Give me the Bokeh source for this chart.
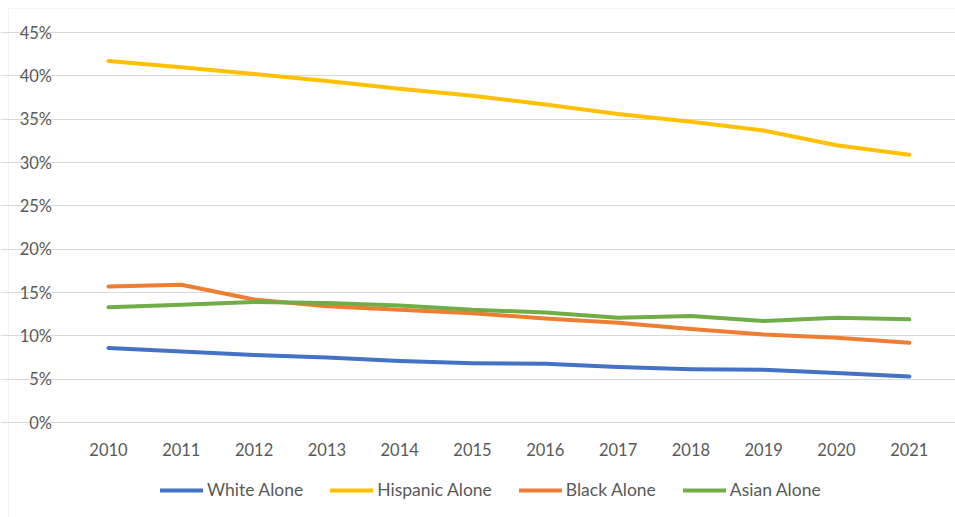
from bokeh.plotting import figure
from bokeh.models import (Legend, LegendItem, NumeralTickFormatter, FixedTicker,
                          Range1d, BoxAnnotation)
from bokeh.embed import file_html
from bokeh.resources import INLINE

# Share of population in each group, by year
years = [2010, 2011, 2012, 2013, 2014, 2015,
         2016, 2017, 2018, 2019, 2020, 2021]
white_alone = [0.086, 0.082, 0.078, 0.075, 0.071, 0.0685,
               0.0677, 0.064, 0.0615, 0.0608, 0.057, 0.053]
hispanic_alone = [0.417, 0.410, 0.402, 0.394, 0.385, 0.377,
                  0.367, 0.356, 0.347, 0.337, 0.320, 0.309]
black_alone = [0.157, 0.159, 0.142, 0.134, 0.130, 0.126,
               0.120, 0.115, 0.108, 0.1015, 0.0977, 0.092]
asian_alone = [0.133, 0.136, 0.139, 0.138, 0.135, 0.130,
               0.127, 0.121, 0.123, 0.117, 0.121, 0.119]
y_ticks = [0, 0.05, 0.10, 0.15, 0.20, 0.25, 0.30, 0.35, 0.40, 0.45]

series = [
    ("White Alone", white_alone, "#4472C4"),
    ("Hispanic Alone", hispanic_alone, "#FFC000"),
    ("Black Alone", black_alone, "#ED7D31"),
    ("Asian Alone", asian_alone, "#70AD47"),
]

FONT = "Lato"
TEXT = "#595959"
GRID = "#d9d9d9"

W, H = 955, 517
# plot-area geometry in pixels: first/last year centres, top/bottom gridlines
X_FIRST, STEP = 108.0, 72.8
Y_TOP, Y_ZERO = 32.0, 422.0
px_per_unit = (Y_ZERO - Y_TOP) / y_ticks[-1]

x_start = years[0] - X_FIRST / STEP
x_end = years[0] + (W - X_FIRST) / STEP
y_end = y_ticks[-1] + Y_TOP / px_per_unit
y_start = -(H - Y_ZERO) / px_per_unit

# the frame fills the whole canvas; axes are pinned inside it
p = figure(
    width=W, height=H,
    x_range=Range1d(x_start, x_end),
    y_range=Range1d(y_start, y_end),
    output_backend="svg",
    toolbar_location=None,
    min_border=0,
)
p.outline_line_color = None
p.background_fill_color = "white"
p.border_fill_color = "white"

# chart area border (its right and bottom edges lie past the page)
p.add_layout(BoxAnnotation(left=8, right=W + 10, top=8, bottom=H + 10,
                           left_units="canvas", right_units="canvas",
                           top_units="canvas", bottom_units="canvas",
                           fill_color=None, fill_alpha=0,
                           line_color=GRID, line_width=1))

items = []
for name, vals, color in series:
    r = p.line(years, vals, line_color=color, line_width=4,
               line_cap="round", line_join="round")
    items.append(LegendItem(label=name, renderers=[r]))

# axes
half = 0.5
p.yaxis.ticker = FixedTicker(ticks=y_ticks)
p.yaxis.formatter = NumeralTickFormatter(format="0%")
p.yaxis.fixed_location = years[0] - half
p.xaxis.ticker = FixedTicker(ticks=years)
p.xaxis.formatter = NumeralTickFormatter(format="0")
p.xaxis.fixed_location = 0
for ax in (p.xaxis[0], p.yaxis[0]):
    ax.axis_line_color = None
    ax.major_tick_line_color = None
    ax.minor_tick_line_color = None
    ax.major_label_text_font = FONT
    ax.major_label_text_font_size = "16.5px"
    ax.major_label_text_color = TEXT
p.yaxis.major_label_standoff = 14
p.xaxis.major_label_standoff = 14

p.xgrid.grid_line_color = None
p.ygrid.grid_line_color = GRID
p.ygrid.grid_line_width = 1
p.ygrid.ticker = FixedTicker(ticks=y_ticks)
p.ygrid.bounds = (years[0] - half, years[-1] + half)

# horizontal legend under the year labels
legend = Legend(items=items, orientation="horizontal", location=(160, 17),
                glyph_width=43, glyph_height=16, label_standoff=4, spacing=27,
                padding=0, margin=0, border_line_color=None,
                background_fill_alpha=0,
                label_text_font=FONT, label_text_font_size="17.5px",
                label_text_color=TEXT)
p.add_layout(legend)

open("out.html", "w").write(file_html(p, INLINE))
